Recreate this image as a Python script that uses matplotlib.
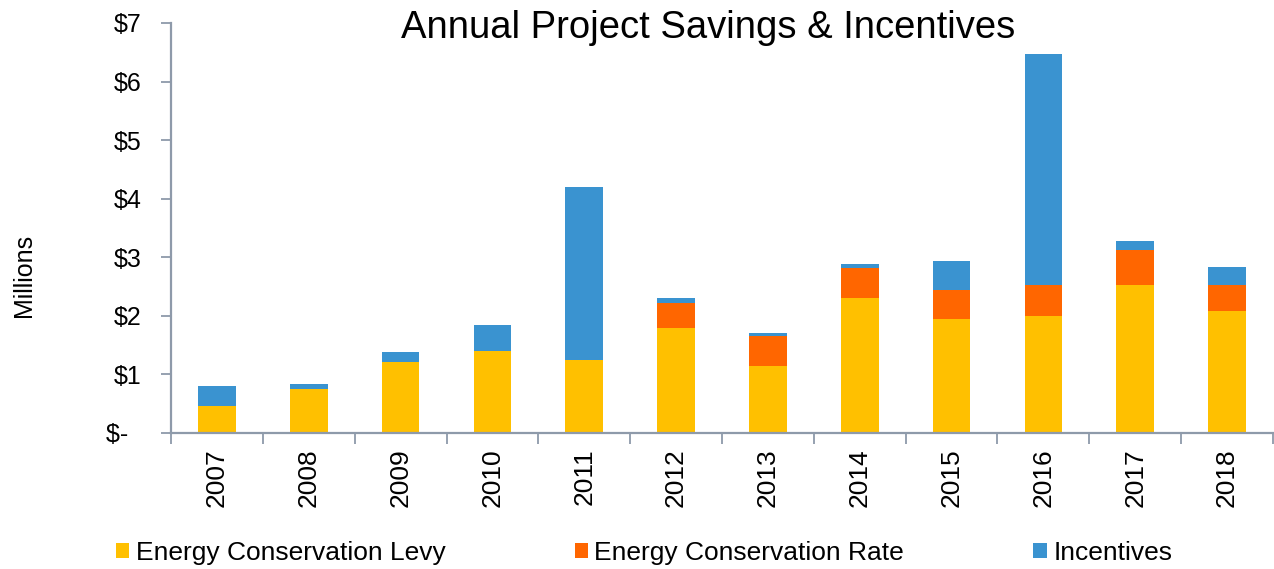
import matplotlib.pyplot as plt
import numpy as np

plt.rcParams['font.family'] = ['Liberation Sans', 'DejaVu Sans']

years = ['2007', '2008', '2009', '2010', '2011', '2012',
         '2013', '2014', '2015', '2016', '2017', '2018']
levy = [0.455, 0.745, 1.21, 1.40, 1.24, 1.79, 1.15, 2.30, 1.94, 2.00, 2.52, 2.09]
rate = [0.0, 0.0, 0.0, 0.0, 0.0, 0.43, 0.51, 0.52, 0.51, 0.52, 0.61, 0.43]
incentives = [0.355, 0.085, 0.17, 0.44, 2.96, 0.09, 0.04, 0.06, 0.48, 3.95, 0.15, 0.31]
y_ticks = [0, 1, 2, 3, 4, 5, 6, 7]
y_labels = ['$-  ', '$1', '$2', '$3', '$4', '$5', '$6', '$7']

c_levy = '#FFC000'
c_rate = '#FF6600'
c_inc = '#3A93D0'
axis_col = '#8E9AAA'

fig = plt.figure(figsize=(12.74, 5.69), dpi=100)
ax = fig.add_axes([171 / 1274, 1 - 433 / 569, (1273 - 171) / 1274, (433 - 23) / 569])

x = np.arange(len(years))
levy = np.array(levy)
rate = np.array(rate)
incentives = np.array(incentives)
w = 0.41
ax.bar(x, levy, w, color=c_levy, label='Energy Conservation Levy')
ax.bar(x, rate, w, bottom=levy, color=c_rate, label='Energy Conservation Rate')
ax.bar(x, incentives, w, bottom=levy + rate, color=c_inc, label='Incentives')

ax.set_xlim(-0.5, len(years) - 0.5)
ax.set_ylim(0, 7)
ax.set_yticks(y_ticks)
ax.set_yticklabels(y_labels, fontsize=18)

# category boundaries get tick marks, centres get labels
ax.set_xticks(np.arange(len(years) + 1) - 0.5)
ax.set_xticklabels([])
ax.set_xticks(x, minor=True)
ax.set_xticklabels(years, minor=True, rotation=90, fontsize=19)
ax.tick_params(axis='x', which='major', length=8, width=1.3, color=axis_col)
ax.tick_params(axis='x', which='minor', length=0, pad=11)
ax.tick_params(axis='y', length=7, width=1.3, color=axis_col, pad=14)

for s in ['top', 'right']:
    ax.spines[s].set_visible(False)
for s in ['left', 'bottom']:
    ax.spines[s].set_color(axis_col)
    ax.spines[s].set_linewidth(1.6)

fig.text(24 / 1274, 1 - 275 / 569, 'Millions', rotation=90, fontsize=18,
         ha='center', va='center')
fig.text(708 / 1274, 1 - 28 / 569, 'Annual Project Savings & Incentives',
         fontsize=27.5, ha='center', va='center')

handles, labels = ax.get_legend_handles_labels()
fig.legend(handles, labels, loc='center', bbox_to_anchor=(644 / 1274, 1 - 553 / 569),
           ncol=3, frameon=False, fontsize=19, handlelength=0.5, handleheight=0.5,
           handletextpad=0.25, columnspacing=4.9)

fig.savefig('out.png', dpi=100)
